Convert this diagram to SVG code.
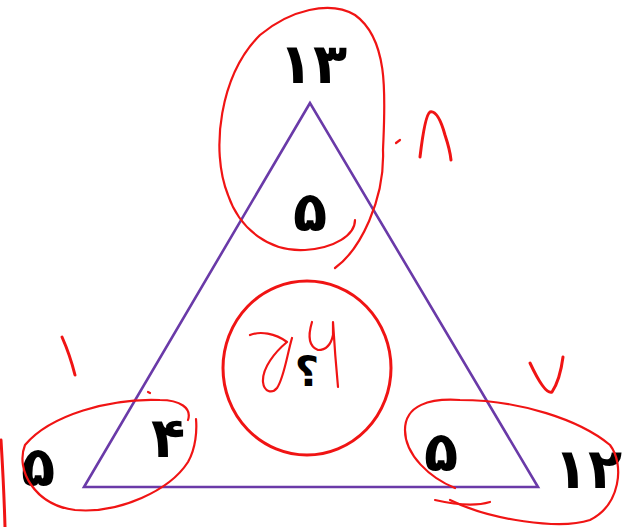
<svg xmlns="http://www.w3.org/2000/svg" width="623" height="527" viewBox="0 0 623 527">
<style>
.num{font-family:"DejaVu Sans",sans-serif;font-weight:bold;fill:#000;text-anchor:middle;font-size:56px}
.ink{fill:none;stroke:#f01414;stroke-width:2.2;stroke-linecap:round;stroke-linejoin:round}
.ink2{fill:none;stroke:#f01414;stroke-width:3;stroke-linecap:round;stroke-linejoin:round}
</style>
<rect width="623" height="527" fill="#fff"/>
<g id="connectors">
<polygon points="310,103 84,487 538,487" fill="none" stroke="#6a3aa8" stroke-width="2.6"/>
</g>
<g id="node-top">
<text class="num" x="313" y="83">۱۳</text>
<text class="num" x="310" y="231">۵</text>
</g>
<g id="node-left">
<text class="num" x="168" y="457">۴</text>
<text class="num" x="38" y="486">۵</text>
</g>
<g id="node-right">
<text class="num" x="441" y="471">۵</text>
<text class="num" x="588" y="488">۱۲</text>
</g>
<g id="node-center">
<text class="num" x="307" y="386" style="font-size:42px">؟</text>
</g>
<g id="annotations">
<path class="ink" d="M335,268 C360,250 385,200 383,150 C385,100 390,40 355,15 C330,0 290,10 260,35 C220,75 210,150 228,195 C240,230 270,252 305,250 C335,248 355,235 355,220"/>
<path class="ink" d="M396,143 L400,140"/>
<ellipse class="ink2" cx="307" cy="368" rx="84" ry="87"/>
<path class="ink" d="M250,335 C260,331 275,333 287,342 C275,352 262,368 263,382 C264,392 272,394 277,388 C284,378 287,355 292,338"/>
<path class="ink" d="M312,322 Q305,345 318,350 Q330,350 333,335 L333,322 Q335,355 338,387"/>
<path class="ink" d="M188,420 C192,408 180,400 160,400 C110,398 50,415 25,445 C15,470 35,505 75,510 C120,514 170,490 188,462 C196,448 197,430 196,419"/>
<path class="ink2" d="M62,337 Q70,355 75,375"/>
<path class="ink2" d="M1,440 Q4,490 5,527"/>
<path class="ink" d="M148,392 L150,393"/>
<path class="ink" d="M455,488 C430,478 405,455 405,430 C405,405 430,398 460,400 C520,400 580,420 610,445 C625,465 620,505 590,520 C560,530 490,520 450,500"/>
<path class="ink" d="M435,500 Q470,508 490,502"/>
<path class="ink2" d="M530,363 Q545,395 552,392 Q560,380 563,357"/>
<path class="ink2" d="M420,157 Q425,115 430,112 Q438,110 445,135 Q450,150 451,160"/>
</g>
</svg>
